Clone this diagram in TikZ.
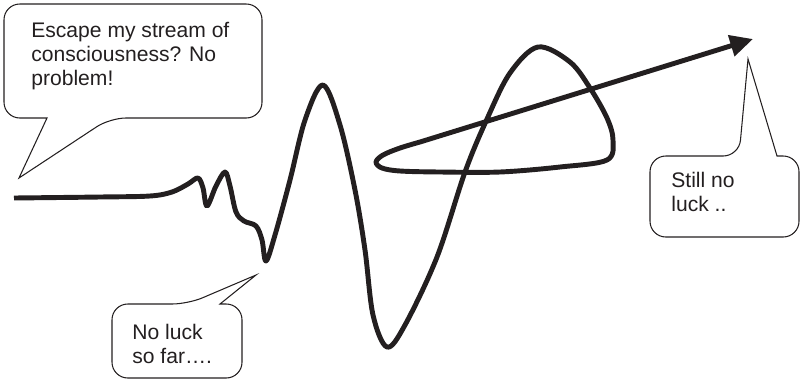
\documentclass[tikz,border=0pt]{standalone}
\usepackage{fontspec}
\setmainfont{Liberation Sans}
\usetikzlibrary{arrows.meta}
\definecolor{ink}{HTML}{231F20}
\tikzset{
  bubble/.style={draw=ink,line width=0.6pt,rounded corners=9pt},
  saying/.style={align=left,anchor=base west,inner sep=0pt,text=ink},
  stream/.style={draw=ink,line width=2.8pt,line join=round}
}

\begin{document}
\begin{tikzpicture}[x=0.02cm,y=-0.02cm,>={Triangle[length=13pt,width=12pt]},
    font=\fontsize{12pt}{13.5pt}\selectfont]
  \useasboundingbox (0,0) rectangle (800,386);
  % where the tails of the bubbles point to
  \coordinate (calm) at (19,178);
  \coordinate (dip) at (256,275);
  \coordinate (goal) at (748,59);
  % the stream itself, from the calm start to the arrow
  \draw[stream,->] plot[smooth,tension=0.55] coordinates {
      (14,198) (100,197) (150,196) (172,192) (188,184) (198,178)
      (203,188) (207,206) (216,186) (225,172) (230,186) (236,212)
      (244,221) (256,226) (262,240) (266,261) (275,235) (290,180)
      (305,120) (323,85) (340,125) (355,190) (365,250) (373,315)
      (387,347) (405,325) (437,257) (465,172) (487,119) (510,73)
      (538,47) (570,62) (590,88) (607,118) (613,140) (607,160)
      (560,167) (500,172) (440,172) (400,171) (382,168) (376,162)
      (383,155) (400,148) (420,142)}
    -- (753,39);
  % bubble at the start (base anchor sits on the last line)
  \draw[bubble] (4,60) -- (4,4) -- (262,4) -- (262,118) -- (110,118)
    [sharp corners] -- (calm) -- (47,118) -- (40,118)
    [rounded corners=9pt] -- (4,118) -- cycle;
  \node[saying] (escape) at (31,85)
    {Escape my stream of\\consciousness? No\\problem!};
  % bubble under the first dip
  \draw[bubble] (112,340) -- (112,304) -- (188,304)
    [sharp corners] -- (dip) -- (220,304) -- (226,304)
    [rounded corners=9pt] -- (242,304) -- (242,378) -- (112,378) -- cycle;
  \node[saying] (sofar) at (132,363.5) {No luck\\so far….};
  % bubble under the arrow
  \draw[bubble] (650,200) -- (650,156) -- (739,156)
    [sharp corners] -- (goal) -- (777,156) -- (783,156)
    [rounded corners=9pt] -- (799,156) -- (799,237) -- (650,237) -- cycle;
  \node[saying] (still) at (671,211.5) {Still no\\luck ..};
\end{tikzpicture}
\end{document}
